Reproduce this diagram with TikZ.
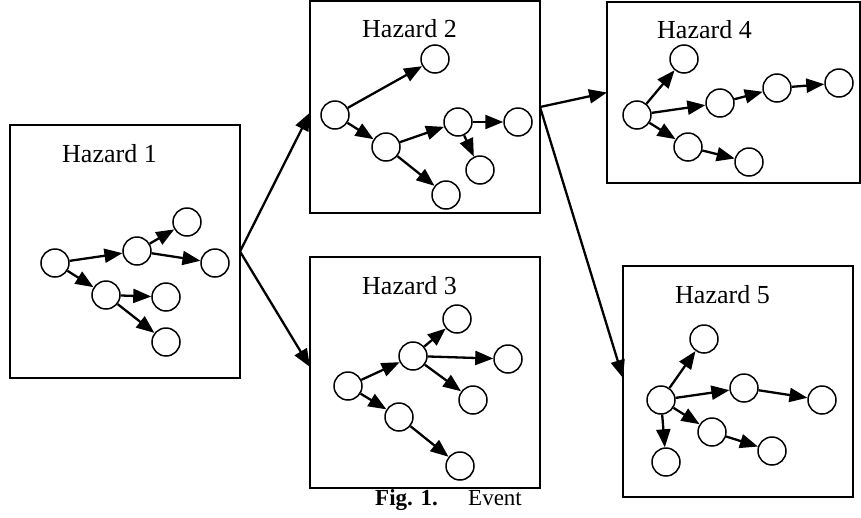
\documentclass[tikz,border=0pt]{standalone}
\usepackage{fontspec}
\setmainfont{Liberation Serif}
\usetikzlibrary{arrows.meta}

\begin{document}
\begin{tikzpicture}[x=1pt,y=-1pt,
  hbox/.style={draw,line width=2pt,rectangle,inner sep=0pt,outer sep=0pt},
  st/.style={draw,circle,line width=1.5pt,minimum size=28pt,inner sep=0pt,fill=white},
  edge/.style={line width=2.3pt,-{Triangle[length=18pt,width=14pt]}},
  flow/.style={line width=2.3pt,-{Triangle[length=18pt,width=14pt]}},
  title/.style={anchor=base west,inner sep=0pt,font=\fontsize{26}{30}\selectfont},
  captext/.style={anchor=base west,inner sep=0pt,font=\fontsize{23}{27}\selectfont}]
\useasboundingbox (0,0) rectangle (861,517);

% hazard boxes
\node[hbox,minimum width=230pt,minimum height=253pt] (b1) at (125,251.5) {};
\node[hbox,minimum width=230pt,minimum height=212pt] (b2) at (425,107) {};
\node[hbox,minimum width=230pt,minimum height=231pt] (b3) at (425,372.5) {};
\node[hbox,minimum width=253pt,minimum height=181pt] (b4) at (733.5,92.5) {};
\node[hbox,minimum width=230pt,minimum height=231pt] (b5) at (738,381.5) {};

% box titles
\node[title] (t1) at (62,162) {Hazard 1};
\node[title] (t2) at (362,37) {Hazard 2};
\node[title] (t3) at (362,294) {Hazard 3};
\node[title] (t4) at (657,38) {Hazard 4};
\node[title] (t5) at (675,303) {Hazard 5};

% transitions between hazards
\draw[flow] (b1.east) -- ([yshift=-5.5pt]b2.west);
\draw[flow] (b1.east) -- ([yshift=5.5pt]b3.west);
\draw[flow] (b2.east) -- (b4.west);
\draw[flow] (b2.east) -- ([yshift=3.5pt]b5.west);

% Hazard 1 graph
\node[st] (h1a) at (55,263) {};
\node[st] (h1b) at (137,251) {};
\node[st] (h1c) at (187,222) {};
\node[st] (h1d) at (215,263) {};
\node[st] (h1e) at (106,295) {};
\node[st] (h1f) at (166,297) {};
\node[st] (h1g) at (166,342) {};
\draw[edge] (h1a) -- (h1b);
\draw[edge] (h1b) -- (h1c);
\draw[edge] (h1b) -- (h1d);
\draw[edge] (h1a) -- (h1e);
\draw[edge] (h1e) -- (h1f);
\draw[edge] (h1e) -- (h1g);

% Hazard 2 graph
\node[st] (h2a) at (335,115) {};
\node[st] (h2b) at (435,59) {};
\node[st] (h2c) at (386,147) {};
\node[st] (h2d) at (458,122) {};
\node[st] (h2e) at (518,122) {};
\node[st] (h2f) at (480,170) {};
\node[st] (h2g) at (446,195) {};
\draw[edge] (h2a) -- (h2b);
\draw[edge] (h2a) -- (h2c);
\draw[edge] (h2c) -- (h2d);
\draw[edge] (h2d) -- (h2e);
\draw[edge] (h2d) -- (h2f);
\draw[edge] (h2c) -- (h2g);

% Hazard 3 graph
\node[st] (h3a) at (348,386) {};
\node[st] (h3b) at (413,356) {};
\node[st] (h3c) at (457,319) {};
\node[st] (h3d) at (508,359) {};
\node[st] (h3e) at (473,400) {};
\node[st] (h3f) at (399,417) {};
\node[st] (h3g) at (460,466) {};
\draw[edge] (h3a) -- (h3b);
\draw[edge] (h3b) -- (h3c);
\draw[edge] (h3b) -- (h3d);
\draw[edge] (h3b) -- (h3e);
\draw[edge] (h3a) -- (h3f);
\draw[edge] (h3f) -- (h3g);

% Hazard 4 graph
\node[st] (h4a) at (637,115) {};
\node[st] (h4b) at (684,59) {};
\node[st] (h4c) at (720,103) {};
\node[st] (h4d) at (777,88) {};
\node[st] (h4e) at (839,83) {};
\node[st] (h4f) at (688,147) {};
\node[st] (h4g) at (749,162) {};
\draw[edge] (h4a) -- (h4b);
\draw[edge] (h4a) -- (h4c);
\draw[edge] (h4c) -- (h4d);
\draw[edge] (h4d) -- (h4e);
\draw[edge] (h4a) -- (h4f);
\draw[edge] (h4f) -- (h4g);

% Hazard 5 graph
\node[st] (h5a) at (661,400) {};
\node[st] (h5b) at (704,339) {};
\node[st] (h5c) at (744,388) {};
\node[st] (h5d) at (822,400) {};
\node[st] (h5e) at (712,432) {};
\node[st] (h5f) at (772,451) {};
\node[st] (h5g) at (666,462) {};
\draw[edge] (h5a) -- (h5b);
\draw[edge] (h5a) -- (h5c);
\draw[edge] (h5c) -- (h5d);
\draw[edge] (h5a) -- (h5e);
\draw[edge] (h5e) -- (h5f);
\draw[edge] (h5a) -- (h5g);

% caption
\node[captext,font=\fontsize{23}{27}\selectfont\bfseries] (fig) at (375,505) {Fig. 1.};
\node[captext] (ev) at (468,505) {Event};
\end{tikzpicture}
\end{document}
